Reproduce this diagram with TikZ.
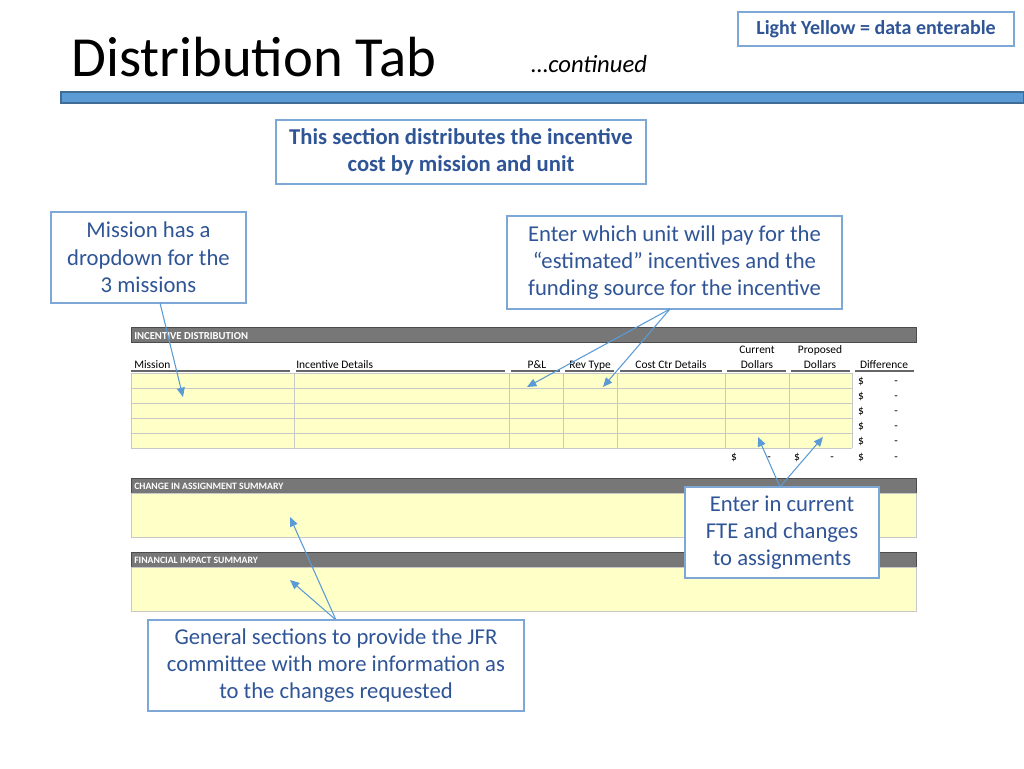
\documentclass[tikz,border=0pt]{standalone}
\usepackage{fontspec}
\setmainfont{Carlito}
\usetikzlibrary{arrows.meta}
\definecolor{txt}{HTML}{2F5597}
\definecolor{bd}{HTML}{7DA7D6}
\definecolor{arr}{HTML}{5B9BD5}
\definecolor{yl}{HTML}{FFFFC8}
\definecolor{hdr}{HTML}{777777}
\definecolor{grid}{HTML}{C8C8C8}
\begin{document}
\begin{tikzpicture}[x=0.75pt,y=-0.75pt,
  call/.style={draw=bd,line width=0.8pt,fill=white,text=txt,align=center,font=\fontsize{17}{20.5}\selectfont,inner sep=0pt},
  ar/.style={draw=arr,line width=0.8pt,-{Triangle[length=7pt,width=6pt]}},
  small/.style={font=\fontsize{8.6}{9}\selectfont,inner sep=0pt,anchor=base},
  hl/.style={font=\bfseries\fontsize{8}{9}\selectfont,inner sep=0pt,anchor=base west,text=white},
  hbar/.style={fill=hdr,draw=black!70,line width=0.4pt}]
\useasboundingbox (0,0) rectangle (1024,768);
% title
\node[anchor=west,font=\fontsize{42.5}{46}\selectfont,inner sep=0pt] (title) at (71,57) {Distribution Tab};
\node[anchor=west,font=\itshape\fontsize{18.5}{20}\selectfont,inner sep=0pt] (cont) at (531,64) {…continued};
\node[call,font=\bfseries\fontsize{15}{17}\selectfont,minimum width=276*0.75pt,minimum height=34*0.75pt] (legend) at (876,29) {Light Yellow = data enterable};
\draw[fill=arr,draw=arr!70!black,line width=0.8pt] (61,92) rectangle (1024,103);
% table header
\draw[hbar] (131,327) rectangle (916,342);
\node[hl] (h1) at (134,339) {INCENTIVE DISTRIBUTION};
\fill[yl] (131,373) rectangle (852,448);
\foreach \y in {373,388,403,418,433,448} \draw[grid,line width=0.6pt] (131,\y) -- (852,\y);
\foreach \x in {131,294,509,563,617,725,789,852} \draw[grid,line width=0.6pt] (\x,373) -- (\x,448);
\foreach \a/\b in {131/290,296/505,511/560,565/614,620/722,727/786,791/850,855/914} \draw[black!60,line width=0.8pt] (\a,371) -- (\b,371);
\node[small,anchor=base west] (c1) at (134,368) {Mission};
\node[small,anchor=base west] (c2) at (296,368) {Incentive Details};
\node[small] (c3) at (537,368) {P\&L};
\node[small] (c4) at (590,368) {Rev Type};
\node[small] (c5) at (671,368) {Cost Ctr Details};
\node[small] (c6a) at (757,353) {Current};
\node[small] (c6) at (757,368) {Dollars};
\node[small] (c7a) at (820,353) {Proposed};
\node[small] (c7) at (820,368) {Dollars};
\node[small] (c8) at (884,368) {Difference};
\foreach \y in {384,399,414,429,444,460} {\node[small] at (861,\y) {\$}; \node[small] at (896,\y) {-};}
\node[small] (t1) at (734,460) {\$}; \node[small] at (769,460) {-};
\node[small] (t2) at (797,460) {\$}; \node[small] at (832,460) {-};
% change in assignment
\draw[hbar] (131,478) rectangle (916,493);
\node[hl,font=\bfseries\fontsize{7.3}{8}\selectfont] (h2) at (134,489.5) {CHANGE IN ASSIGNMENT SUMMARY};
\draw[fill=yl,draw=grid,line width=0.6pt] (131,493) rectangle (916,537);
\draw[hbar] (131,552) rectangle (916,567);
\node[hl,font=\bfseries\fontsize{7.3}{8}\selectfont] (h3) at (134,563.5) {FINANCIAL IMPACT SUMMARY};
\draw[fill=yl,draw=grid,line width=0.6pt] (131,567) rectangle (916,611);
% coords
\coordinate (pMis) at (183,397);
\coordinate (pPL) at (527,387);
\coordinate (pRev) at (603,387);
\coordinate (pCur) at (758,437);
\coordinate (pPro) at (823,437);
\coordinate (pCh) at (290,517);
\coordinate (pFi) at (290,580);
% callouts
\node[call,font=\bfseries\fontsize{17}{20.5}\selectfont,minimum width=370*0.75pt,minimum height=64*0.75pt] (sec) at (461,152) {This section distributes the incentive\\cost by mission and unit};
\node[call,minimum width=195*0.75pt,minimum height=91*0.75pt] (mis) at (148.5,257.5) {Mission has a\\dropdown for the\\3 missions};
\node[call,minimum width=335*0.75pt,minimum height=93*0.75pt] (unit) at (674.5,262.5) {Enter which unit will pay for the\\“estimated” incentives and the\\funding source for the incentive};
\draw[ar] (160,303) -- (pMis);
\draw[ar] (670,309) -- (pPL);
\draw[ar] (670,309) -- (pRev);
\draw[ar] (780,487) -- (pCur);
\draw[ar] (780,487) -- (pPro);
\draw[ar] (336,620) -- (pCh);
\draw[ar] (336,620) -- (pFi);
\node[call,minimum width=194*0.75pt,minimum height=91*0.75pt] (fte) at (782,532.5) {Enter in current\\FTE and changes\\to assignments};
\node[call,minimum width=376*0.75pt,minimum height=91*0.75pt] (gen) at (336,665.5) {General sections to provide the JFR\\committee with more information as\\to the changes requested};
\end{tikzpicture}
\end{document}
